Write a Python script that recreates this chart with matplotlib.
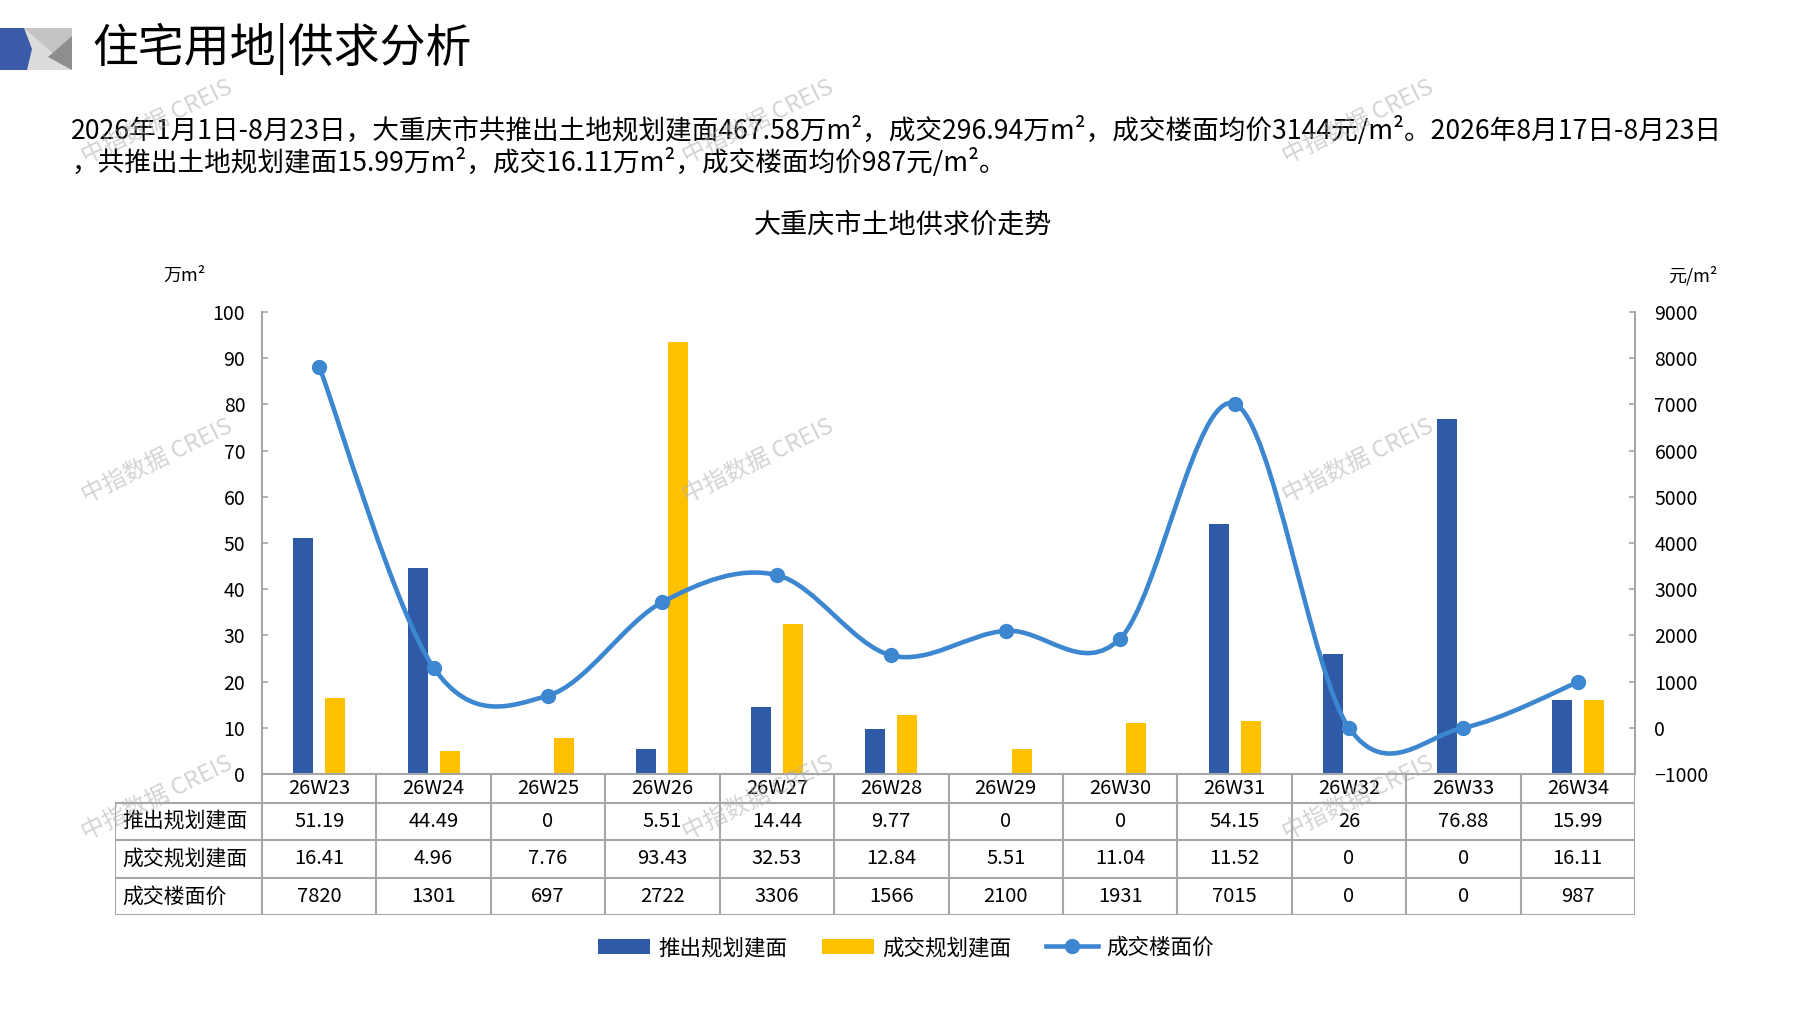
import numpy as np
import matplotlib.pyplot as plt
from matplotlib.path import Path
from matplotlib.patches import PathPatch, Polygon
from matplotlib.lines import Line2D

plt.rcParams['font.family'] = ['Noto Sans CJK SC', 'DejaVu Sans']

weeks = ['26W23', '26W24', '26W25', '26W26', '26W27', '26W28',
         '26W29', '26W30', '26W31', '26W32', '26W33', '26W34']
supply = [51.19, 44.49, 0, 5.51, 14.44, 9.77, 0, 0, 54.15, 26, 76.88, 15.99]
deal = [16.41, 4.96, 7.76, 93.43, 32.53, 12.84, 5.51, 11.04, 11.52, 0, 0, 16.11]
price = [7820, 1301, 697, 2722, 3306, 1566, 2100, 1931, 7015, 0, 0, 987]
row_names = ['推出规划建面', '成交规划建面', '成交楼面价']

heading = '住宅用地|供求分析'
para = ['2026年1月1日-8月23日，大重庆市共推出土地规划建面467.58万m²，成交296.94万m²，'
        '成交楼面均价3144元/m²。2026年8月17日-8月23日',
        '，共推出土地规划建面15.99万m²，成交16.11万m²，成交楼面均价987元/m²。']
chart_title = '大重庆市土地供求价走势'
watermark = '中指数据 CREIS'

BLUE = '#2E5AA7'
YELLOW = '#FFC000'
LINE = '#3D86D0'
GRID = '#A6A6A6'

W, H = 1797, 1010
fig = plt.figure(figsize=(W / 100, H / 100), dpi=100)


def fx(px):
    return px / W


def fy(py):
    return 1 - py / H


def smooth_path(xs, ys):
    # excel style smoothed line: cubic bezier through every point
    pts = np.column_stack([xs, ys]).astype(float)
    n = len(pts)
    verts = [pts[0]]
    codes = [Path.MOVETO]
    for i in range(n - 1):
        p0 = pts[max(i - 1, 0)]
        p1 = pts[i]
        p2 = pts[i + 1]
        p3 = pts[min(i + 2, n - 1)]
        verts += [p1 + (p2 - p0) / 6, p2 - (p3 - p1) / 6, p2]
        codes += [Path.CURVE4] * 3
    return Path(verts, codes)


# main chart area
left, right, top, bottom = 262, 1635, 312, 774
ax = fig.add_axes([fx(left), fy(bottom), (right - left) / W, (bottom - top) / H])
x = np.arange(len(weeks))
b1 = ax.bar(x - 0.14, supply, width=0.175, color=BLUE, zorder=2)
b2 = ax.bar(x + 0.14, deal, width=0.175, color=YELLOW, zorder=2)
ax.set_xlim(-0.5, len(weeks) - 0.5)
ax.set_ylim(0, 100)
ax.set_yticks(range(0, 101, 10))
ax.tick_params(axis='y', direction='in', length=4, width=1.2, color=GRID,
               labelsize=14, pad=12)
ax.tick_params(axis='x', bottom=False, labelbottom=False)
for s in ['top', 'right']:
    ax.spines[s].set_visible(False)
for s in ['left', 'bottom']:
    ax.spines[s].set_color(GRID)
    ax.spines[s].set_linewidth(1.5)

ax2 = ax.twinx()
ax2.set_ylim(-1000, 9000)
ax2.set_yticks(range(-1000, 9001, 1000))
ax2.tick_params(axis='y', direction='in', length=4, width=1.2, color=GRID,
                labelsize=14, pad=14)
for s in ['top', 'left', 'bottom']:
    ax2.spines[s].set_visible(False)
ax2.spines['right'].set_color(GRID)
ax2.spines['right'].set_linewidth(1.5)
ax2.add_patch(PathPatch(smooth_path(x, price), fill=False, edgecolor=LINE,
                        lw=3.3, capstyle='round', zorder=3))
ax2.plot(x, price, 'o', color=LINE, ms=10, zorder=4)

# data table under the chart
tb_left, tb_bottom = 115, 915
unit = (right - left) / len(weeks)
lab_w = (left - tb_left) / unit
tb = fig.add_axes([fx(tb_left), fy(tb_bottom), (right - tb_left) / W, (tb_bottom - bottom) / H])
x0 = -0.5 - lab_w
tb.set_xlim(x0, len(weeks) - 0.5)
tb.set_ylim(0, tb_bottom - bottom)
tb.axis('off')
row_edges = [141, 112, 75, 37, 0]
for yy in row_edges[1:]:
    tb.plot([x0, len(weeks) - 0.5], [yy, yy], color=GRID, lw=1.5, solid_capstyle='butt')
for k in range(len(weeks) + 1):
    tb.plot([k - 0.5, k - 0.5], [0, 141], color=GRID, lw=1.5, solid_capstyle='butt')
tb.plot([x0, x0], [0, 112], color=GRID, lw=1.5, solid_capstyle='butt')
for i, w in enumerate(weeks):
    tb.text(i, (row_edges[0] + row_edges[1]) / 2, w, ha='center', va='center', fontsize=14.5)
for r, (name, vals) in enumerate(zip(row_names, [supply, deal, price])):
    yc = (row_edges[r + 1] + row_edges[r + 2]) / 2
    tb.text(x0 + 0.06, yc, name, ha='left', va='center', fontsize=15)
    for i, v in enumerate(vals):
        tb.text(i, yc, f'{v:g}', ha='center', va='center', fontsize=14.5)

# legend
line_handle = Line2D([], [], color=LINE, lw=3.3, marker='o', ms=10)
fig.legend([b1, b2, line_handle], row_names, loc='center',
           bbox_to_anchor=(fx(906), fy(948)), ncol=3, frameon=False,
           fontsize=15.5, handlelength=2.4, handletextpad=0.4, columnspacing=1.6)

# overlay in pixel coordinates for texts and decoration
ov = fig.add_axes([0, 0, 1, 1])
ov.set_xlim(0, W)
ov.set_ylim(H, 0)
ov.axis('off')
ov.add_patch(Polygon([[0, 28], [72, 28], [72, 70], [0, 70]], color='#C4C4C4', lw=0))
ov.add_patch(Polygon([[24, 28], [72, 70], [20, 70]], color='#DCDCDC', lw=0))
ov.add_patch(Polygon([[72, 36], [48, 57], [72, 70]], color='#8E8E8E', lw=0))
ov.add_patch(Polygon([[0, 28], [24, 28], [32, 49], [27, 70], [0, 70]], color='#3B5AA8', lw=0))
ov.text(92, 49, heading, fontsize=33, ha='left', va='center')
ov.text(71, 130, para[0], fontsize=19.2, ha='left', va='center')
ov.text(71, 162, para[1], fontsize=19.2, ha='left', va='center')
ov.text(903, 225, chart_title, fontsize=19.5, ha='center', va='center')
ov.text(185, 276, '万m²', fontsize=13, ha='center', va='center')
ov.text(1693, 276, '元/m²', fontsize=13, ha='center', va='center')
for wx in [157, 758, 1358]:
    for wy in [122, 461, 798]:
        ov.text(wx, wy, watermark, fontsize=17, color='#B0B0B0', alpha=0.55,
                rotation=26, ha='center', va='center', rotation_mode='anchor')

fig.savefig('out.png', dpi=100, facecolor='white')
